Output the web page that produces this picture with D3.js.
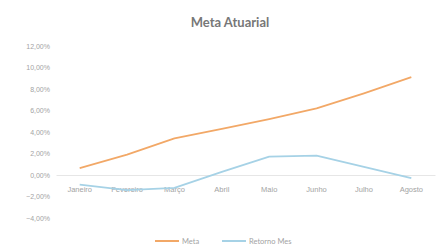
<!DOCTYPE html>
<html>
<head>
<meta charset="utf-8">
<script src="https://cdn.jsdelivr.net/npm/d3@7"></script>
<style>
  body { margin: 0; background: #fff; }
  svg { font-family: Lato, "Open Sans", sans-serif; }
  .tick text { fill: #a3a3a3; }
</style>
</head>
<body>
<svg width="439" height="252"></svg>
<script>
const months = ['Janeiro', 'Fevereiro', 'Março', 'Abril', 'Maio', 'Junho', 'Julho', 'Agosto'];
const meta = [0.65, 1.9, 3.4, 4.3, 5.2, 6.2, 7.6, 9.1];
const retorno = [-0.9, -1.4, -1.2, 0.3, 1.7, 1.8, 0.75, -0.3];
const yTicks = [-4, -2, 0, 2, 4, 6, 8, 10, 12];
const seriesNames = ['Meta', 'Retorno Mes'];
const colors = ['#f2a867', '#a6d2e6'];

const svg = d3.select('svg');
const margin = { top: 46, right: 0, bottom: 34, left: 56 };
const width = +svg.attr('width');
const innerWidth = width - margin.left - margin.right;
const innerHeight = 218 - margin.top;

const g = svg.append('g')
  .attr('transform', `translate(${margin.left},${margin.top})`);

const xScale = d3.scaleBand()
  .domain(months)
  .range([0, innerWidth - 4]);

const yScale = d3.scaleLinear()
  .domain([-4, 12])
  .range([innerHeight, 0]);

// y axis labels, no axis line
const yAxisG = g.append('g')
  .call(d3.axisLeft(yScale)
    .tickValues(yTicks)
    .tickSize(0)
    .tickPadding(6)
    .tickFormat(d => d3.format('.2f')(d).replace('.', ',') + '%'));
yAxisG.select('.domain').remove();
yAxisG.selectAll('text').attr('font-size', 7);

// category axis sits at zero
const xAxisG = g.append('g')
  .attr('transform', `translate(0,${yScale(0)})`)
  .call(d3.axisBottom(xScale).tickSize(0).tickPadding(12));
xAxisG.select('.domain').attr('stroke', '#e6e6e6');
xAxisG.selectAll('text').attr('font-size', 7.5);

const line = d3.line()
  .x((d, i) => xScale(months[i]) + xScale.bandwidth() / 2)
  .y(d => yScale(d));

[meta, retorno].forEach((values, i) => {
  g.append('path')
    .datum(values)
    .attr('fill', 'none')
    .attr('stroke', colors[i])
    .attr('stroke-width', 1.8)
    .attr('stroke-linejoin', 'round')
    .attr('d', line);
});

svg.append('text')
  .attr('x', 230)
  .attr('y', 27)
  .attr('text-anchor', 'middle')
  .attr('font-size', 13)
  .attr('font-weight', 'bold')
  .attr('fill', '#777')
  .text('Meta Atuarial');

// legend
const legendX = [155, 222];
seriesNames.forEach((name, i) => {
  const lg = svg.append('g').attr('transform', `translate(${legendX[i]},241)`);
  lg.append('line')
    .attr('x1', 0).attr('x2', 24)
    .attr('stroke', colors[i])
    .attr('stroke-width', 2);
  lg.append('text')
    .attr('x', 27)
    .attr('y', 2.5)
    .attr('font-size', 7.5)
    .attr('fill', '#a3a3a3')
    .text(name);
});
</script>
</body>
</html>
